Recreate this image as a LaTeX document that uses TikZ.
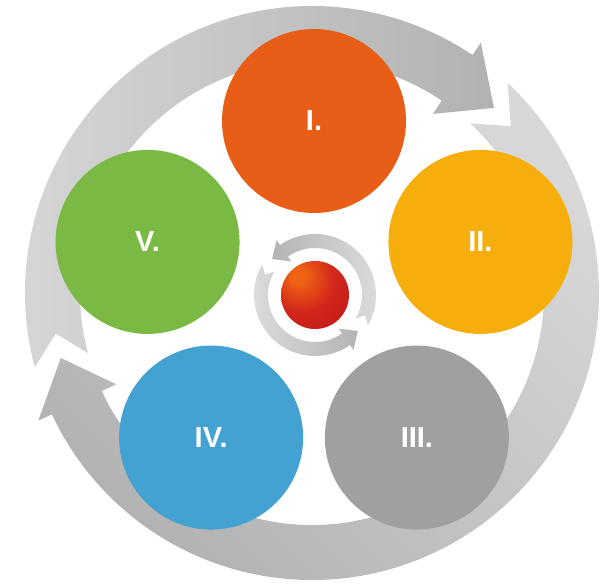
\documentclass[tikz,border=0pt]{standalone}
\usepackage{fontspec}
\setmainfont{Liberation Sans}
\usepackage{tikz}
\usetikzlibrary{calc}
\definecolor{phaseorange}{HTML}{E85E17}
\definecolor{phaseamber}{HTML}{F6AE0C}
\definecolor{phasegrey}{HTML}{A0A0A0}
\definecolor{phaseblue}{HTML}{44A2D3}
\definecolor{phasegreen}{HTML}{79B944}
\definecolor{cyclelight}{HTML}{D8D8D8}
\definecolor{cycledark}{HTML}{B2B2B2}
\definecolor{ringlight}{HTML}{DEDEDE}
\definecolor{ringdark}{HTML}{B4B4B4}
\definecolor{corehi}{HTML}{EE6414}
\definecolor{corered}{HTML}{D3261B}
\definecolor{coredark}{HTML}{B11219}
\pgfdeclareradialshading{coreball}{\pgfpoint{-13bp}{15bp}}{color(0bp)=(corehi); color(5bp)=(corehi); color(24bp)=(corered); color(58bp)=(coredark); color(100bp)=(coredark)}
\tikzset{
  phase/.style={circle, minimum size=184pt, inner sep=0pt, text=white, font=\fontsize{29}{29}\selectfont\bfseries},
  corenode/.style={circle, minimum size=68pt, inner sep=0pt, shade, shading=coreball}
}

\begin{document}
\begin{tikzpicture}[x=1pt, y=1pt]
  \useasboundingbox (0,0) rectangle (607,583);
  \coordinate (loop) at (312,290);
  \coordinate (hub) at (314,287);
  \coordinate (ring) at (315,288);
  \begin{scope}[shift={(loop)}]
    \shade[left color=cyclelight, right color=cycledark]
      (195:287) arc[start angle=195, end angle=56, radius=287] -- (56:302) -- (45.5:259.5) -- (56:216) -- (56:232)
      arc[start angle=56, end angle=195, radius=232] -- (189:259.5) -- cycle;
    \shade[top color=cyclelight, bottom color=cycledark, shading angle=-45]
      (47:287) arc[start angle=47, end angle=-155, radius=287] -- (-155:302) -- (-165.5:259.5) -- (-155:216) -- (-155:232)
      arc[start angle=-155, end angle=47, radius=232] -- (40:259.5) -- cycle;
  \end{scope}
  \node[phase, fill=phaseorange] (p1) at ($(hub)+(90:175)$) {I.};
  \node[phase, fill=phaseamber] (p2) at ($(hub)+(18:175)$) {II.};
  \node[phase, fill=phasegrey] (p3) at ($(hub)+(-54:175)$) {III.};
  \node[phase, fill=phaseblue] (p4) at ($(hub)+(-126:175)$) {IV.};
  \node[phase, fill=phasegreen] (p5) at ($(hub)+(162:175)$) {V.};
  \begin{scope}[shift={(ring)}]
    \shade[left color=ringdark, right color=ringlight]
      (-30:61) arc[start angle=-30, end angle=125, radius=61] -- (125:67) -- (140:56) -- (125:41) -- (125:47)
      arc[start angle=125, end angle=-30, radius=47] -- (-22:54) -- cycle;
    \shade[left color=ringlight, right color=ringdark]
      (150:61) arc[start angle=150, end angle=305, radius=61] -- (305:67) -- (320:56) -- (305:41) -- (305:47)
      arc[start angle=305, end angle=150, radius=47] -- (158:54) -- cycle;
  \end{scope}
  \node[corenode] (core) at (ring) {};
\end{tikzpicture}
\end{document}
